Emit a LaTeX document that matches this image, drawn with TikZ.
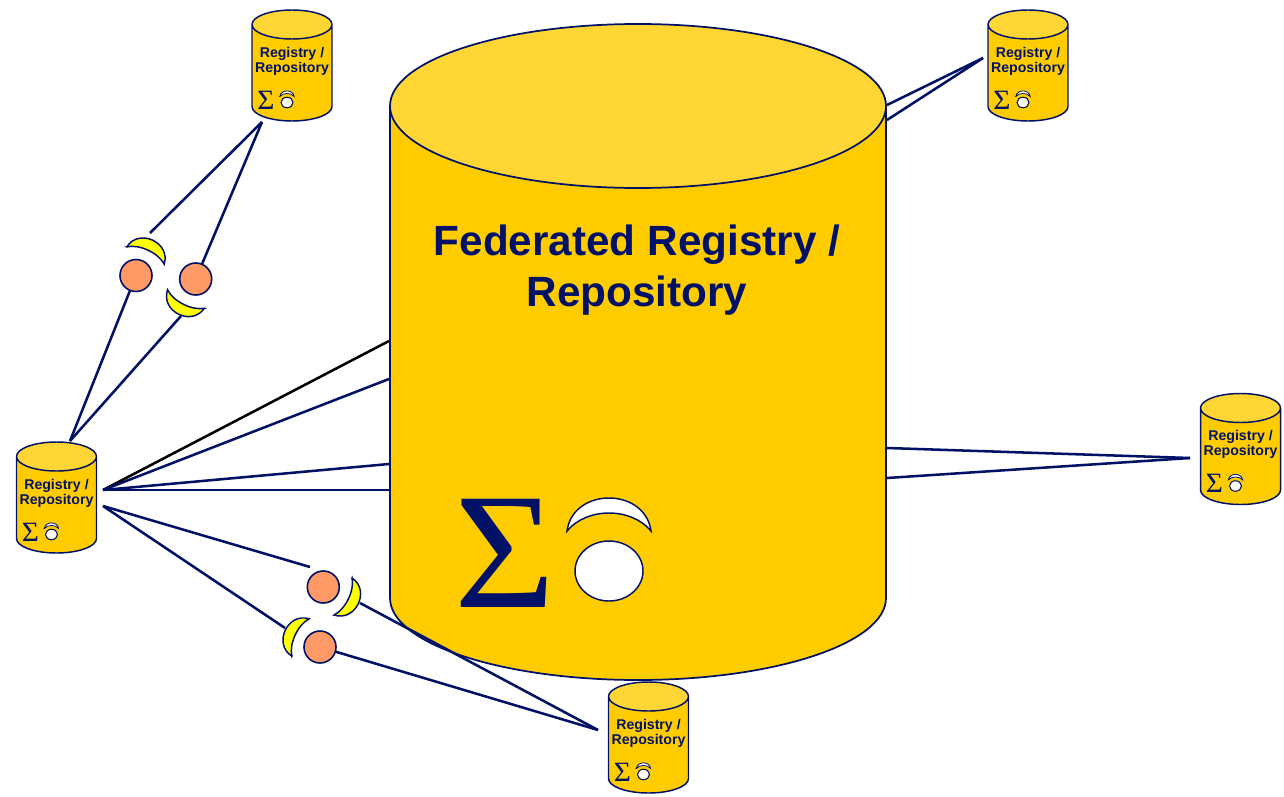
\documentclass[tikz,border=0pt]{standalone}
\usepackage{fontspec}
\setmainfont{Liberation Sans}
\newfontfamily\serifsym[FakeStretch=1.05]{Liberation Serif}
\usetikzlibrary{shapes.geometric}
\definecolor{regNavy}{RGB}{0,17,102}
\definecolor{regBody}{RGB}{255,204,0}
\definecolor{regTop}{RGB}{255,214,51}
\definecolor{regSalmon}{RGB}{255,153,102}
\definecolor{regYellow}{RGB}{255,255,0}
\tikzset{
    store/.style={cylinder, shape border rotate=90, draw=regNavy, line width=1.1pt, cylinder uses custom fill,
        cylinder body fill=regBody, cylinder end fill=regTop, outer sep=0pt, anchor=shape center},
    smallstore/.style={store, minimum width=60pt, minimum height=83.25pt, aspect=1.45, inner sep=7.5pt},
    bigstore/.style={store, minimum width=372pt, minimum height=492pt, aspect=1.5, inner sep=41pt},
    link/.style={draw=regNavy, line width=1.9pt},
    ball/.style={circle, draw=regNavy, line width=1.2pt, fill=regSalmon, minimum size=24pt, inner sep=0pt, outer sep=0pt},
    ring/.style={ellipse, draw=regNavy, line width=0.8pt, fill=white, inner sep=0pt, outer sep=0pt},
    title/.style={text=regNavy, align=center, font=\bfseries},
    yellowmoon/.style={draw=regNavy, line width=1.1pt, fill=regYellow, scale=0.49},
    moon/.pic={
        \path[pic actions] (-42,0) .. controls (-36,-44) and (36,-44) .. (42,0)
            .. controls (22,-24) and (-22,-24) .. cycle;
    },
    fatmoon/.pic={
        \path[pic actions] (-42,0) .. controls (-36,-46) and (36,-46) .. (42,0)
            .. controls (22,-16) and (-22,-16) .. cycle;
    }
}
\begin{document}
\begin{tikzpicture}[x=0.75pt, y=-0.75pt]
    \useasboundingbox (0,0) rectangle (1284,796);

    \newcommand\regnode[3]{
        \node[smallstore] (#1) at (#2,#3) {};
        \node[title, font=\bfseries\fontsize{10.6}{11.25}\selectfont] (#1text) at (#2,#3-4.5) {Registry /\\Repository};
        \node[text=regNavy, font=\serifsym\fontsize{21}{21}\selectfont] (#1sum) at (#2-26,#3+34.5) {Σ};
        \node[ring, minimum width=12pt*0.75, minimum height=10.5pt*0.75] (#1ring) at (#2-5,#3+37) {};
        \pic[draw=regNavy, line width=0.6pt, fill=white, scale=0.17] at (#2-5,#3+31) {moon};
    }

    % big store
    \node[bigstore, line width=1.3pt] (fed) at (638,352) {};
    \node[title, font=\bfseries\fontsize{31.7}{38.25}\selectfont] (fedtext) at (637,270) {Federated Registry /\\Repository};
    \node[text=regNavy, font=\serifsym\fontsize{124}{124}\selectfont] (fedsum) at (505,553) {Σ};
    \node[ring, line width=1.1pt, minimum width=51pt, minimum height=45pt] (fedring) at (609,571) {};
    \pic[draw=regNavy, line width=1.1pt, fill=white] at (609,531) {moon};

    % small stores
    \regnode{regtop}{292}{65.5}
    \regnode{regright}{1028}{65.5}
    \regnode{regleft}{56.5}{497.5}
    \regnode{regfar}{1240.5}{449}
    \regnode{regbottom}{648.5}{737.5}

    % hubs and free ends
    \coordinate (hubtop) at (262,122);
    \coordinate (hubside) at (70,441);
    \coordinate (hubleft) at (103,490);
    \coordinate (hublow) at (103,506);
    \coordinate (hubbottom) at (598,730);
    \coordinate (hubright) at (983,58);
    \coordinate (hubfar) at (1190,458);
    \coordinate (endtop) at (150,233);
    \coordinate (endside) at (181,316);
    \coordinate (endlow) at (310,567);
    \coordinate (endleft) at (285,628);
    \coordinate (endbottom) at (360,603);
    \coordinate (feda) at (389,341);
    \coordinate (fedb) at (389,379);
    \coordinate (fedc) at (389,464);
    \coordinate (fedd) at (389,490);
    \coordinate (fede) at (887,105);
    \coordinate (fedf) at (887,120);
    \coordinate (fedg) at (887,448);
    \coordinate (fedh) at (887,478);

    % balls and moons
    \node[ball] (balla) at (136,275.5) {};
    \node[ball] (ballb) at (195.7,279) {};
    \node[ball] (ballc) at (323.3,587) {};
    \node[ball] (balld) at (320,647) {};
    \pic[yellowmoon, rotate=-24.7] at (145.5,255.5) {fatmoon};
    \pic[yellowmoon, rotate=153.4] at (186,299) {fatmoon};
    \pic[yellowmoon, rotate=-116] at (343,596.5) {fatmoon};
    \pic[yellowmoon, rotate=65.3] at (300.5,637.5) {fatmoon};

    % links
    \draw[link] (hubtop) -- (endtop);
    \draw[link] (hubtop) -- (ballb);
    \draw[link] (hubside) -- (balla);
    \draw[link] (hubside) -- (endside);
    \draw[link] (hublow) -- (endlow);
    \draw[link] (hublow) -- (endleft);
    \draw[link] (balld) -- (hubbottom);
    \draw[link] (endbottom) -- (hubbottom);
    \draw[link, draw=black] (hubleft) -- (feda);
    \draw[link] (hubleft) -- (fedb);
    \draw[link] (hubleft) -- (fedc);
    \draw[link] (hubleft) -- (fedd);
    \draw[link] (fede) -- (hubright);
    \draw[link] (fedf) -- (hubright);
    \draw[link] (fedg) -- (hubfar);
    \draw[link] (fedh) -- (hubfar);
\end{tikzpicture}
\end{document}
